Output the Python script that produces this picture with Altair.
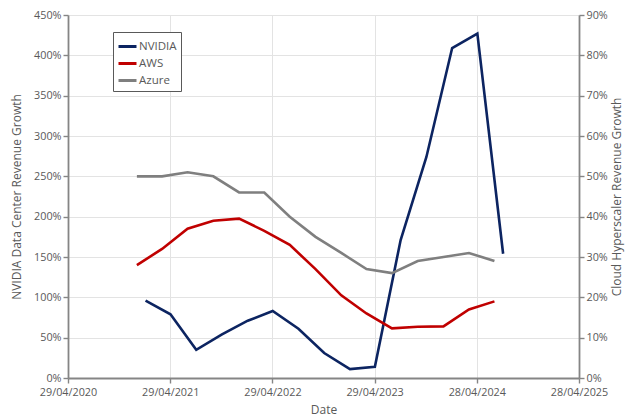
import altair as alt
import pandas as pd

# ---- data ----
series_names = ["NVIDIA", "AWS", "Azure"]
series_colors = ["#0C2461", "#C00000", "#7F7F7F"]

nvidia_dates = ["2021-01-31", "2021-04-30", "2021-07-31", "2021-10-31", "2022-01-31",
                "2022-04-30", "2022-07-31", "2022-10-31", "2023-01-31", "2023-04-30",
                "2023-07-31", "2023-10-31", "2024-01-31", "2024-04-30", "2024-07-31"]
nvidia_growth = [96, 79, 35, 54, 71, 83, 61, 31, 11, 14, 171, 274, 409, 427, 154]

cloud_dates = ["2020-12-31", "2021-03-31", "2021-06-30", "2021-09-30", "2021-12-31",
               "2022-03-31", "2022-06-30", "2022-09-30", "2022-12-31", "2023-03-31",
               "2023-06-30", "2023-09-30", "2023-12-31", "2024-03-31", "2024-06-30"]
aws_growth = [28, 32, 37, 39, 39.5, 36.5, 33, 27, 20.5, 16, 12.3, 12.7, 12.8, 17, 19]
azure_growth = [50, 50, 51, 50, 46, 46, 40, 35, 31, 27, 26, 29, 30, 31, 29]

x_tick_dates = [(2020, 4, 29), (2021, 4, 29), (2022, 4, 29), (2023, 4, 29), (2024, 4, 28), (2025, 4, 28)]
left_ticks = [0, 50, 100, 150, 200, 250, 300, 350, 400, 450]
right_ticks = [0, 10, 20, 30, 40, 50, 60, 70, 80, 90]

# ---- tables ----
nv_df = pd.DataFrame({"Date": nvidia_dates, "Growth": nvidia_growth, "Series": "NVIDIA"})
cloud_df = pd.concat([
    pd.DataFrame({"Date": cloud_dates, "Growth": aws_growth, "Series": "AWS"}),
    pd.DataFrame({"Date": cloud_dates, "Growth": azure_growth, "Series": "Azure"}),
], ignore_index=True)

FONT = "Open Sans"
TXT = "#595959"
AX = "#858585"

x_vals = [alt.DateTime(year=y, month=m, date=d, utc=True) for (y, m, d) in x_tick_dates]
x_enc = alt.X(
    "Date:T",
    scale=alt.Scale(type="utc", domain=[x_vals[0], x_vals[-1]]),
    axis=alt.Axis(values=x_vals, format="%d/%m/%Y", title="Date", grid=True,
                  labelPadding=3, titlePadding=8, labelFlush=False, labelOverlap=False),
)

legend = alt.Legend(
    title=None, orient="none", legendX=45, legendY=17,
    strokeColor="#595959", fillColor="white", padding=4,
    symbolType="stroke", symbolSize=324, symbolStrokeWidth=3,
    labelFont=FONT, labelFontSize=11.5, labelColor=TXT, labelOffset=1,
    rowPadding=0,
)
color_enc = alt.Color("Series:N", scale=alt.Scale(domain=series_names, range=series_colors),
                      legend=legend, sort=series_names)

nv_layer = alt.Chart(nv_df).mark_line(strokeWidth=2.6).encode(
    x=x_enc,
    y=alt.Y("Growth:Q", scale=alt.Scale(domain=[0, 450]),
            axis=alt.Axis(values=left_ticks, labelExpr="datum.value + '%'",
                          title="NVIDIA Data Center Revenue Growth", grid=True,
                          titlePadding=10)),
    color=color_enc,
)

cloud_layer = alt.Chart(cloud_df).mark_line(strokeWidth=2.6).encode(
    x=x_enc,
    y=alt.Y("Growth:Q", scale=alt.Scale(domain=[0, 90]),
            axis=alt.Axis(values=right_ticks, labelExpr="datum.value + '%'", orient="right",
                          title="Cloud Hyperscaler Revenue Growth", grid=False,
                          titleAngle=270, titlePadding=16)),
    color=color_enc,
)

chart = alt.layer(nv_layer, cloud_layer).resolve_scale(y="independent").properties(
    width=511, height=363,
    autosize=alt.AutoSizeParams(type="none"),
    padding={"left": 60, "top": 7, "right": 53, "bottom": 41},
    background="white",
).configure_view(stroke=None).configure_axis(
    labelFont=FONT, labelFontSize=10.8, labelColor=TXT,
    titleFont=FONT, titleFontSize=12, titleFontWeight="normal", titleColor=TXT,
    domainColor=AX, domainWidth=1.8, tickColor=AX, tickSize=5, tickWidth=1.4,
    gridColor="#E3E3E3", gridWidth=1,
)

chart.save("out.html", embed_options={"renderer": "svg", "actions": False})
